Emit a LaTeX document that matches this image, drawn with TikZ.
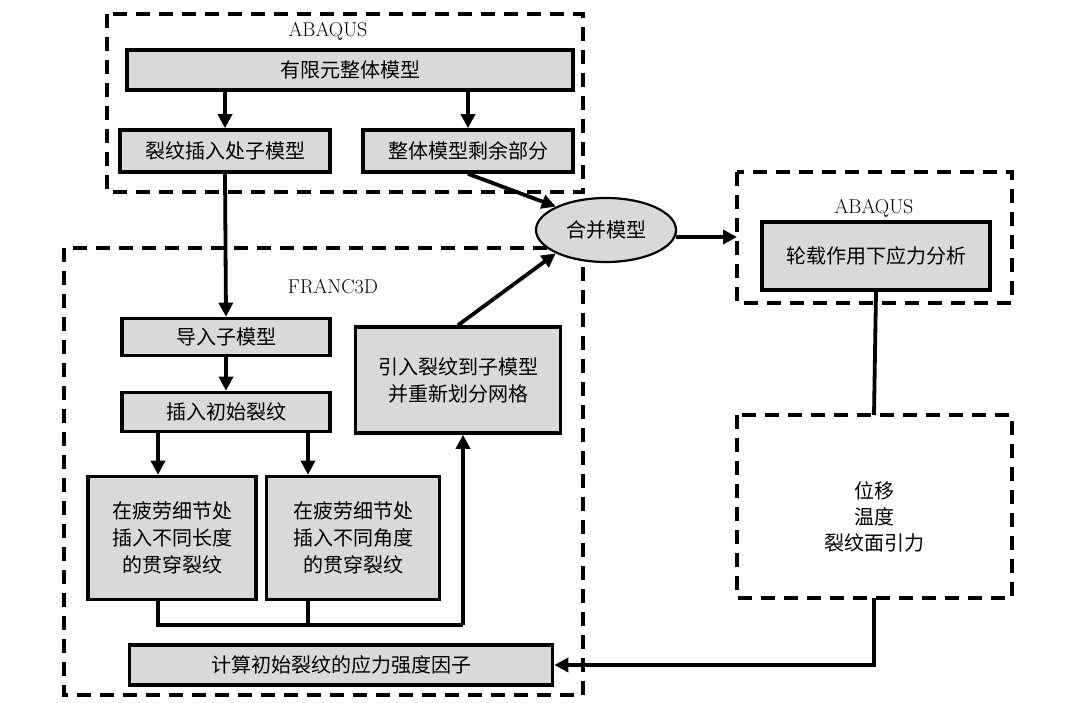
\documentclass[tikz,border=0pt]{standalone}
\usepackage{fontspec}
\newfontfamily\cjk{Noto Sans CJK SC}
\usetikzlibrary{arrows.meta, shapes.geometric}
\tikzset{
    box/.style={draw, line width=3.6pt, fill=gray!30, inner sep=0pt, font=\cjk\fontsize{20}{27}\selectfont, align=center},
    group/.style={draw, line width=3.2pt, dash pattern=on 14pt off 9pt},
    flow/.style={line width=3.8pt, -{Triangle[length=14pt, width=14pt]}},
    link/.style={line width=3.8pt},
    title/.style={font=\fontsize{20}{24}\selectfont}
}
\begin{document}
\begin{tikzpicture}[x=1pt, y=-1pt]
    \useasboundingbox (0, 0) rectangle (1080, 703);

    % groups
    \draw[group] (107, 14) rectangle (583, 192);
    \draw[group] (64, 248) rectangle (583, 695);
    \draw[group] (737, 172) rectangle (1012, 303);
    \draw[group] (737, 415) rectangle (1012, 598);
    \node[title] (abaqusA) at (328, 31) {ABAQUS};
    \node[title] (franc) at (333, 287) {FRANC3D};
    \node[title] (abaqusB) at (874, 208) {ABAQUS};

    % boxes
    \node[box, minimum width=446pt, minimum height=40pt] (global) at (350, 70) {有限元整体模型};
    \node[box, minimum width=210pt, minimum height=42pt] (sub) at (225, 151) {裂纹插入处子模型};
    \node[box, minimum width=210pt, minimum height=42pt] (rest) at (468, 151) {整体模型剩余部分};
    \node[ellipse, draw, line width=2.2pt, fill=gray!30, minimum width=140pt, minimum height=64pt, font=\cjk\fontsize{20}{27}\selectfont] (merge) at (606, 230) {合并模型};
    \node[box, minimum width=228pt, minimum height=68pt] (load) at (876, 256) {轮载作用下应力分析};
    \node[box, minimum width=208pt, minimum height=37pt] (import) at (226, 337) {导入子模型};
    \node[box, minimum width=208pt, minimum height=39pt] (init) at (226, 412) {插入初始裂纹};
    \node[box, minimum width=205pt, minimum height=106pt] (remesh) at (458, 380) {引入裂纹到子模型\\并重新划分网格};
    \node[box, minimum width=168pt, minimum height=123pt] (len) at (172, 538) {在疲劳细节处\\插入不同长度\\的贯穿裂纹};
    \node[box, minimum width=173pt, minimum height=123pt] (ang) at (353, 538) {在疲劳细节处\\插入不同角度\\的贯穿裂纹};
    \node[box, minimum width=423pt, minimum height=40pt] (sif) at (341, 665) {计算初始裂纹的应力强度因子};
    \node[font=\cjk\fontsize{20}{26}\selectfont, align=center] (bc) at (874, 517) {位移\\温度\\裂纹面引力};

    % connectors
    \coordinate (join) at (463, 625);
    \coordinate (lenIn) at (158, 432);
    \coordinate (angIn) at (308, 432);
    \coordinate (abqIn) at (737, 237);
    \coordinate (mergeOut) at (676, 237);
    \coordinate (bcTop) at (874, 415);
    \coordinate (bcBot) at (874, 598);
    \draw[flow] (global.south -| sub) -- (sub.north);
    \draw[flow] (global.south -| rest) -- (rest.north);
    \draw[flow] (sub.south) -- (import.north);
    \draw[flow] (import) -- (init);
    \draw[flow] (lenIn) -- (lenIn |- len.north);
    \draw[flow] (angIn) -- (angIn |- ang.north);
    \draw[flow] (rest.south) -- (merge.north west);
    \draw[flow] (remesh.north) -- (merge.south west);
    \draw[flow] (mergeOut) -- (abqIn);
    \draw[link] (lenIn |- len.south) |- (join);
    \draw[link] (angIn |- ang.south) -- (angIn |- join);
    \draw[flow] (join) -- (join |- remesh.south);
    \draw[link] (load.south) -- (bcTop);
    \draw[flow] (bcBot) |- (sif.east);
\end{tikzpicture}
\end{document}
